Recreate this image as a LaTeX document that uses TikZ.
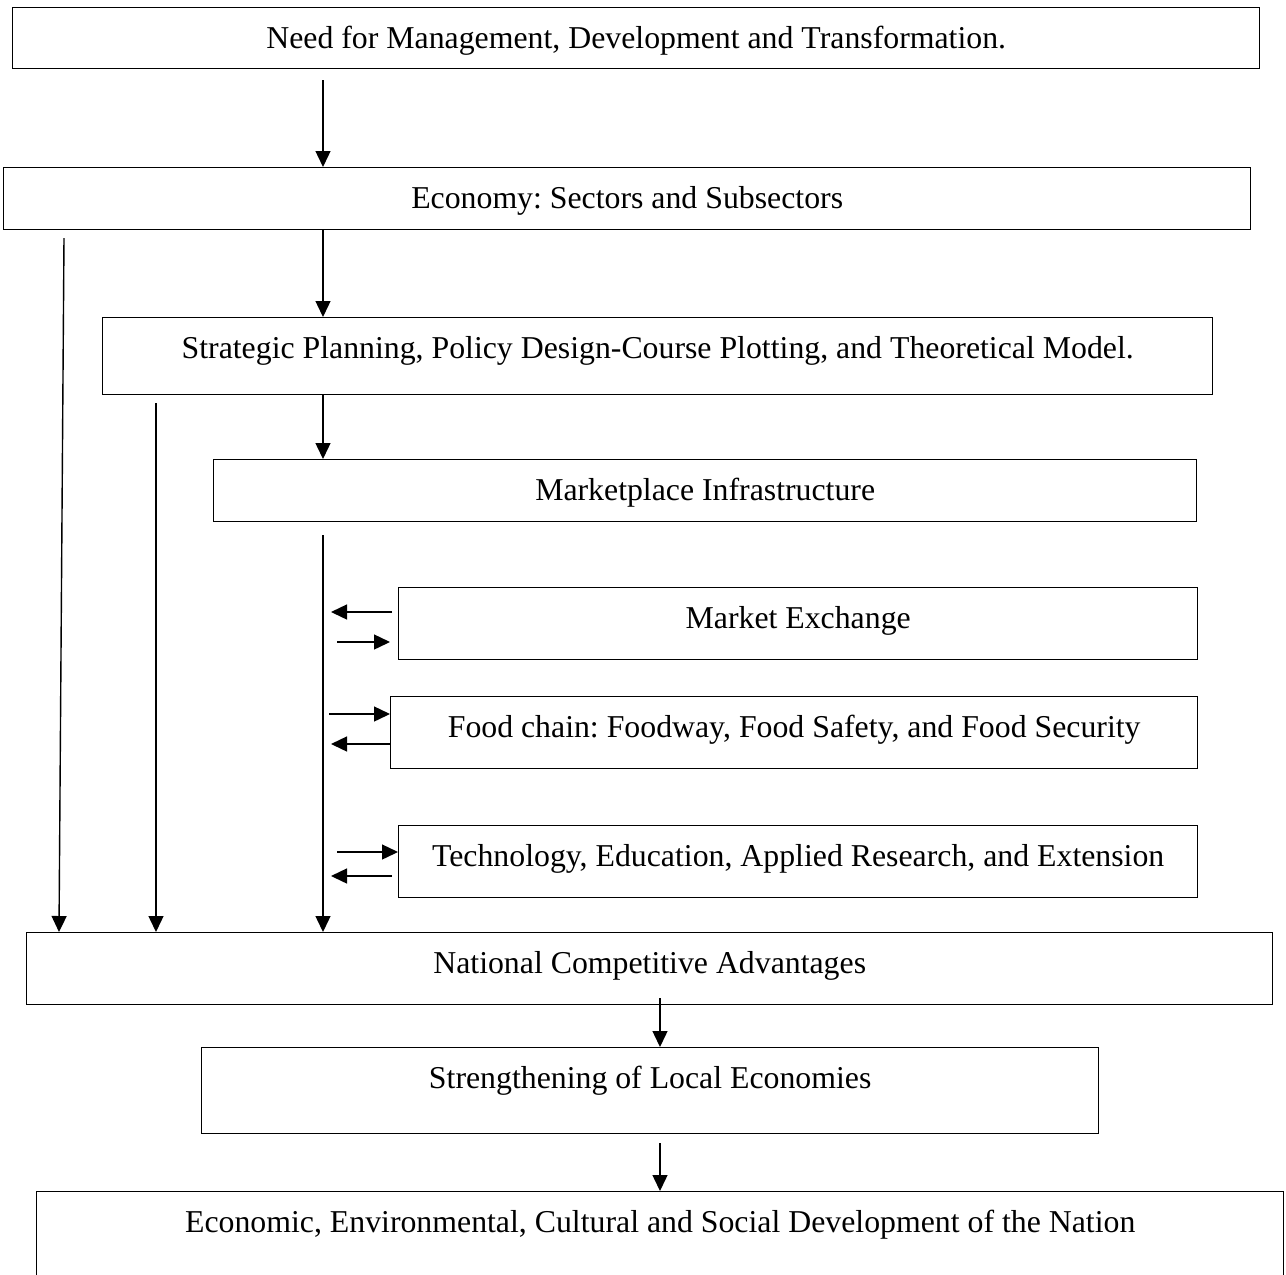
\documentclass[tikz,border=0pt]{standalone}
\usepackage{fontspec}
\setmainfont{Liberation Serif}
\usetikzlibrary{arrows.meta}
\usetikzlibrary{positioning}

\begin{document}
\begin{tikzpicture}[x=1pt,y=-1pt,
    box/.style 2 args={draw,line width=1.4pt,inner sep=0pt,anchor=north west,
      text width=#1pt,align=flush center,text height=41pt,text depth=#2pt,
      font=\fontsize{31.8}{38}\selectfont\frenchspacing},
    arr/.style={line width=1.4pt,-{Triangle[length=16pt,width=15pt]}}]
    \clip (0,0) rectangle (1286,1275);

    \node[box={1247}{20}] (need) at (12,7) {Need for Management, Development and Transformation.};
    \node[box={1247}{21}] (econ) at (3,167) {Economy: Sectors and Subsectors};
    \node[box={1110}{36}] (strat) at (102,317) {Strategic Planning, Policy Design-Course Plotting, and Theoretical Model.};
    \node[box={983}{21}] (infra) at (213,459) {Marketplace Infrastructure};
    \node[box={799}{31}] (exch) at (398,587) {Market Exchange};
    \node[box={807}{31}] (food) at (390,696) {Food chain: Foodway, Food Safety, and Food Security};
    \node[box={799}{31}] (tech) at (398,825) {Technology, Education, Applied Research, and Extension};
    \node[box={1246}{31}] (nca) at (26,932) {National Competitive Advantages};
    \node[box={897}{45}] (local) at (201,1047) {Strengthening of Local Economies};
    \node[box={1247}{79}] (nation) at (36,1191) {Economic, Environmental, Cultural and Social Development of the Nation};

    % main column
    \coordinate (col) at (323,0);
    \draw[arr] (323,80) -- (col |- econ.north);
    \draw[arr] (col |- econ.south) -- (col |- strat.north);
    \draw[arr] (col |- strat.south) -- (col |- infra.north);

    % long lines down to the advantages
    \coordinate (trunk) at (323,535);
    \coordinate (left1) at (64,238);
    \coordinate (left2) at (156,403);
    \draw[arr] (left1) -- (59,0 |- nca.north);
    \draw[arr] (left2) -- (left2 |- nca.north);
    \draw[arr] (trunk) -- (trunk |- nca.north);

    % side arrows
    \draw[arr] (392,612) -- (331,612);
    \draw[arr] (337,642) -- (390,642);
    \draw[arr] (329,714) -- (food.west |- 0,714);
    \draw[arr] (food.west |- 0,744) -- (331,744);
    \draw[arr] (337,852) -- (tech.west |- 0,852);
    \draw[arr] (392,876) -- (331,876);

    % lower column
    \coordinate (low) at (660,998);
    \draw[arr] (low) -- (low |- local.north);
    \draw[arr] (660,1143) -- (low |- nation.north);
\end{tikzpicture}
\end{document}
